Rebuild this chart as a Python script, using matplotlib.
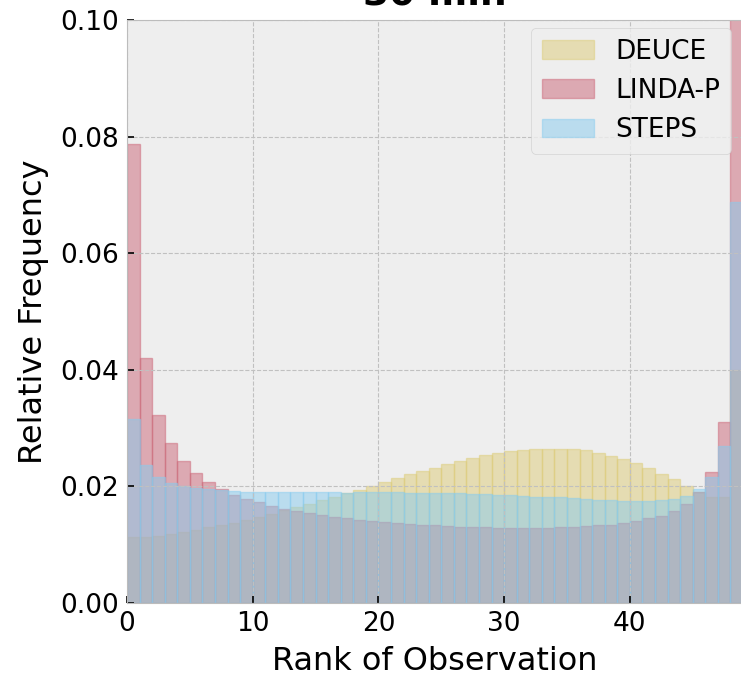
import numpy as np
import matplotlib
matplotlib.use("Agg")
import matplotlib.pyplot as plt

# rank histogram, 49 ranks (0..48)
ranks = np.arange(49)

deuce = [0.0113, 0.0113, 0.0115, 0.0118, 0.0122, 0.0125, 0.0130, 0.0134, 0.0138,
         0.0142, 0.0148, 0.0153,
         0.0160, 0.0164, 0.0170, 0.0177, 0.0181, 0.0189, 0.0194, 0.0201, 0.0207,
         0.0214, 0.0221, 0.0226, 0.0232, 0.0238, 0.0244, 0.0249, 0.0254, 0.0257,
         0.0261, 0.0263, 0.0265, 0.0265, 0.0265, 0.0264, 0.0262, 0.0258, 0.0253,
         0.0247, 0.0240, 0.0231, 0.0222, 0.0212, 0.0201,
         0.0191, 0.0182, 0.0182, 0.0400]

linda = [0.0788, 0.0420, 0.0322, 0.0274, 0.0244, 0.0223, 0.0208, 0.0196, 0.0186,
         0.0179, 0.0173, 0.0166,
         0.0162, 0.0158, 0.0154, 0.0151, 0.0148, 0.0145, 0.0143, 0.0141, 0.0139,
         0.0137, 0.0136, 0.0134, 0.0133, 0.0132, 0.0131, 0.0130, 0.0130, 0.0129,
         0.0129, 0.0129, 0.0129, 0.0129, 0.0130, 0.0131, 0.0132, 0.0133, 0.0134,
         0.0137, 0.0141, 0.0145, 0.0150, 0.0158, 0.0170,
         0.0190, 0.0225, 0.0310, 0.1280]

steps = [0.0316, 0.0237, 0.0216, 0.0206, 0.0201, 0.0198, 0.0195, 0.0194, 0.0192,
         0.0190, 0.0190, 0.0190, 0.0190, 0.0190, 0.0190, 0.0190, 0.0190, 0.0189,
         0.0190, 0.0190, 0.0190, 0.0190, 0.0189, 0.0189, 0.0188, 0.0188,
         0.0188, 0.0187, 0.0187, 0.0186, 0.0185, 0.0184,
         0.0182, 0.0182, 0.0181, 0.0180, 0.0178, 0.0177, 0.0177, 0.0175, 0.0175,
         0.0175, 0.0177, 0.0179, 0.0184,
         0.0196, 0.0216, 0.0269, 0.0688]

names = ["DEUCE", "LINDA-P", "STEPS"]
colors = ["#DDCC77", "#CC6677", "#88CCEE"]   # tol muted: sand, rose, cyan

plt.style.use("bmh")

fig = plt.figure(figsize=(7.41, 6.80), dpi=100)
ax = fig.add_axes([127/741, 77/680, 616/741, 583/680])

for vals, name, c in zip([deuce, linda, steps], names, colors):
    ax.hist(ranks, bins=np.arange(50), weights=vals, color=c, edgecolor=c,
            alpha=0.5, linewidth=1.0, label=name)

ax.set_xlim(0, 49)
ax.set_ylim(0, 0.10)
ax.set_yticks([0.0, 0.02, 0.04, 0.06, 0.08, 0.10])
ax.set_xticks([0, 10, 20, 30, 40])
ax.tick_params(axis="both", labelsize=19, length=5, width=1.2, pad=6, color="black")
ax.grid(True, color="#c0c0c0", linestyle="--", linewidth=0.8)

ax.set_xlabel("Rank of Observation", fontsize=23, labelpad=6)
ax.set_ylabel("Relative Frequency", fontsize=23, labelpad=8)
ax.set_title("30 min", fontsize=27, fontweight="bold", pad=11)

ax.legend(loc="upper right", fontsize=19, borderaxespad=0,
          bbox_to_anchor=(0.9805, 0.986))

fig.savefig("out.png", dpi=100)
